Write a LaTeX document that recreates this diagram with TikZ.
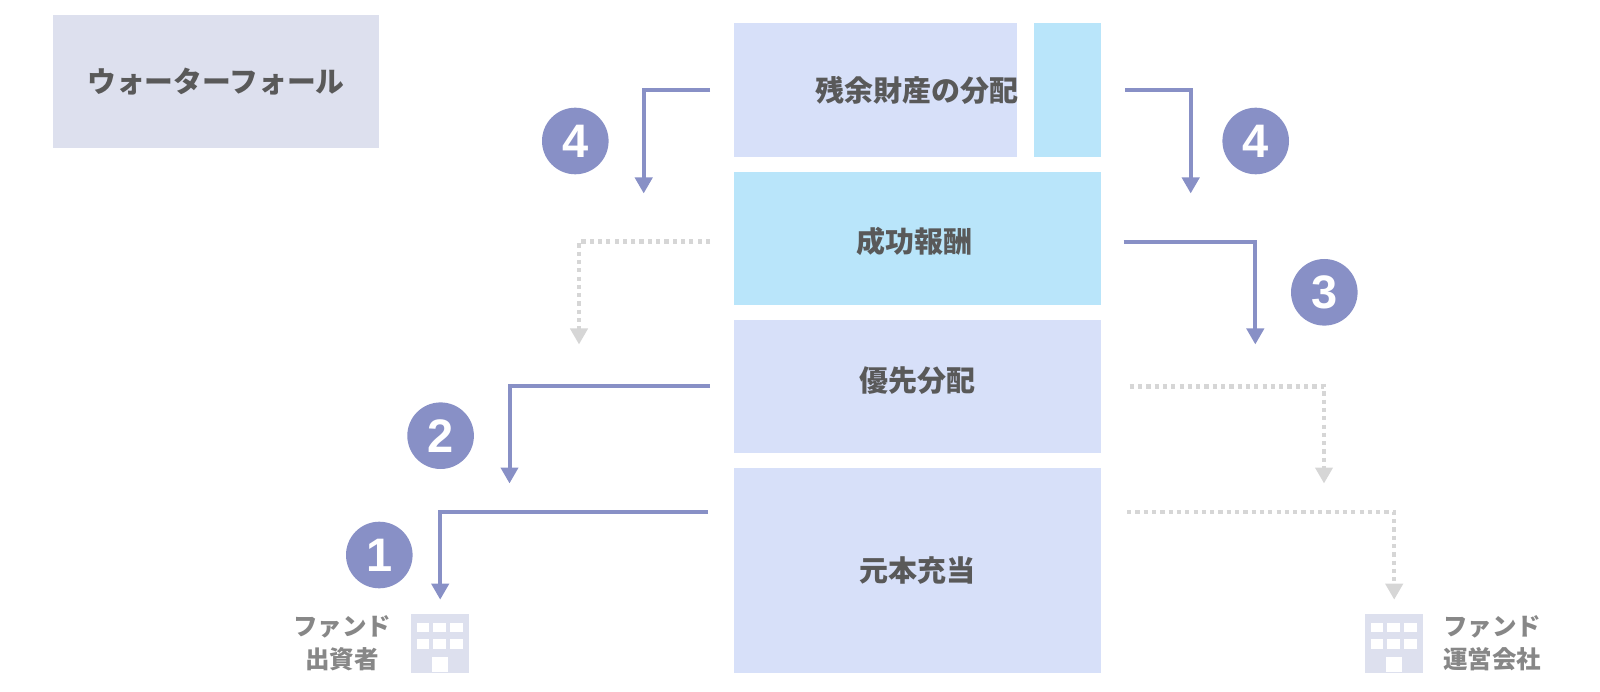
\documentclass[tikz,border=0pt]{standalone}
\usepackage{fontspec}
\setmainfont{Noto Sans CJK JP}
\newfontfamily\numFont{Liberation Sans}
\usetikzlibrary{arrows.meta,positioning}
\definecolor{myBlue}{HTML}{D7E0F9}
\definecolor{myCyan}{HTML}{B9E5FA}
\definecolor{myGrey}{HTML}{DDE0EE}
\definecolor{myLinkBlue}{HTML}{8890C6}
\definecolor{myDotGrey}{HTML}{D6D6D6}
\tikzset{
myTitle/.style={
	rectangle,fill=myGrey,anchor=north west,
	inner sep=0pt,minimum width=325.6pt,minimum height=133.7pt,
	text=black!65,font=\fontsize{28.8}{32}\selectfont\bfseries
}
, myBox/.style={
	rectangle,fill=myBlue,anchor=north west,
	inner sep=0pt,minimum width=366.3pt,
	text=black!65,font=\fontsize{29}{32}\selectfont\bfseries
}
, myText/.style={
	inner sep=0pt,
	text=black!65,font=\fontsize{29}{32}\selectfont\bfseries
}
, myNum/.style={
	circle,fill=myLinkBlue,inner sep=0pt,minimum size=66.6pt,
	text=white,font=\numFont\fontsize{47}{50}\selectfont\bfseries
}
, myOwner/.style={
	inner sep=0pt,align=center,
	text=black!47,font=\fontsize{24.5}{33}\selectfont\bfseries
}
, myBuilding/.style={
	rectangle,fill=myGrey,anchor=north west,
	inner sep=0pt,minimum width=58pt,minimum height=58.3pt
}
% link
, myLink/.style={-{Triangle[width=17pt,length=16pt]},color=myLinkBlue,line width=4pt}
, myDots/.style={-{Triangle[width=17pt,length=16pt]},color=myDotGrey,line width=4.2pt,
	dash pattern=on 4.2pt off 4.1pt}
}
\begin{document}
\begin{tikzpicture}[x=1pt,y=-1pt]
	\useasboundingbox (0,0) rectangle (1600,692);
	% nodes
	\node[myTitle] (Title) at (53,14.6) {ウォーターフォール};

	\node[myBox,minimum width=283pt,minimum height=133.4pt] (Rest) at (734,23.3) {};
	\node[myBox,fill=myCyan,minimum width=66.7pt,minimum height=133.4pt] (RestFee) at (1033.6,23.3) {};
	\node[myText] (RestText) at (917,90) {残余財産の分配};
	\node[myBox,fill=myCyan,minimum height=133.3pt] (Fee) at (734,171.7) {};
	\node[myText] (FeeText) at (914.5,241) {成功報酬};
	\node[myBox,minimum height=132.5pt] (Pref) at (734,320) {};
	\node[myText] (PrefText) at (917,381) {優先分配};
	\node[myBox,minimum height=204.3pt] (Principal) at (734,468) {元本充当};

	% buildings
	\node[myBuilding] (Investor) at (411,614) {};
	\node[myBuilding] (Manager) at (1365,614) {};
	\foreach \bld in {Investor,Manager}
	{
		\begin{scope}[shift={(\bld.north west)}]
			\foreach \wx in {6,22.3,39.3}
				\foreach \wy in {8.7,25.3}
					\fill[white] (\wx,\wy) rectangle ++(12.3,9.7);
			\fill[white] (20.7,42.7) rectangle (37,58.3);
		\end{scope}
	}
	\node[myOwner] (InvestorText) at (342,643) {ファンド\\出資者};
	\node[myOwner] (ManagerText) at (1492,643) {ファンド\\運営会社};

	% numbers
	\node[myNum] (NumOne) at (379.3,555) {1};
	\node[myNum] (NumTwo) at (440.6,435.7) {2};
	\node[myNum] (NumThree) at (1324.3,292.3) {3};
	\node[myNum] (NumFourL) at (575.3,141) {4};
	\node[myNum] (NumFourR) at (1255.7,141) {4};

	% arrow ends
	\coordinate (EndFourL) at (643.7,193.5);
	\coordinate (EndFourR) at (1190.7,193.5);
	\coordinate (EndFeeL) at (579,344.5);
	\coordinate (EndFeeR) at (1255.3,344.5);
	\coordinate (EndPrefL) at (509.5,483.5);
	\coordinate (EndPrefR) at (1324,483.5);

	% links
	\draw [myLink,shorten <=24pt] (Rest.west) -| (EndFourL);
	\draw [myLink,shorten <=24.6pt] (RestFee.east) -| (EndFourR);
	\draw [myDots,shorten <=24pt] ([yshift=-3pt]Fee.west) -| (EndFeeL);
	\draw [myLink,shorten <=23pt] ([yshift=-3pt]Fee.east) -| (EndFeeR);
	\draw [myLink,shorten <=24pt] (Pref.west) -| (EndPrefL);
	\draw [myDots,shorten <=29pt] (Pref.east) -| (EndPrefR);
	\draw [myLink,shorten <=26pt,shorten >=14.3pt] ([yshift=58pt]Principal.west) -| (Investor.north);
	\draw [myDots,shorten <=26.4pt,shorten >=14.3pt] ([yshift=58pt]Principal.east) -| (Manager.north);
\end{tikzpicture}
\end{document}
